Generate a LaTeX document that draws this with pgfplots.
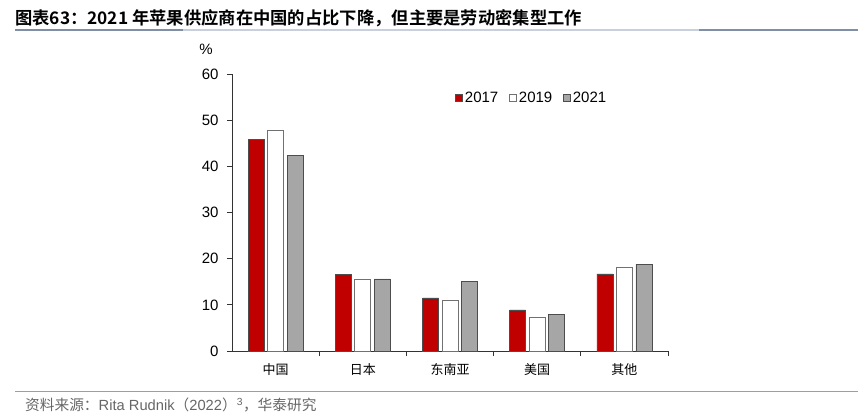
\documentclass[border=0pt]{standalone}
\usepackage{pgfplots}
\pgfplotsset{compat=1.18}
\usepackage{fontspec}
\setmainfont{Liberation Sans}
\newfontfamily\cjk{Noto Sans CJK SC}[BoldFont={Noto Sans CJK SC Bold}]
\definecolor{cred}{HTML}{C00000}
\definecolor{cgray}{HTML}{A6A6A6}
\definecolor{edge}{HTML}{4D4D4D}
\definecolor{lightrule}{HTML}{C8D0DC}
\definecolor{darkrule}{HTML}{7F8FA6}
\definecolor{footrule}{HTML}{8FA0B8}
\begin{document}
\begin{tikzpicture}[x=1bp,y=1bp]
\path[use as bounding box] (0,0) rectangle (865,417);
\node[anchor=west, inner sep=0] at (15,399) {\fontsize{17.3bp}{20bp}\selectfont\cjk\bfseries 图表63：2021 年苹果供应商在中国的占比下降，但主要是劳动密集型工作};
\draw[lightrule, line width=1.2bp] (15,387) -- (858,387);
\draw[darkrule, line width=1.4bp] (15,387) -- (183,387);
\draw[darkrule, line width=1.4bp] (699,387) -- (858,387);
\draw[footrule, line width=1bp] (15,26) -- (858,26);
\node[anchor=west, inner sep=0, text=black!60] at (25,12) {\fontsize{14.7bp}{17bp}\selectfont{\cjk 资料来源：}Rita Rudnik{\cjk （}2022{\cjk ）}\textsuperscript{3}{\cjk ，华泰研究}};
\node[inner sep=0] at (206,368) {\fontsize{15bp}{17bp}\selectfont\%};
\begin{axis}[
  at={(232bp,66bp)}, anchor=south west,
  scale only axis, width=436bp, height=277bp,
  ybar, bar width=16bp, ybar=3.5bp,
  xmin=-0.5, xmax=4.5, ymin=0, ymax=60,
  enlargelimits=false,
  axis x line*=bottom, axis y line*=left,
  axis line style={black!80, line width=0.8bp},
  ytick={0,10,20,30,40,50,60},
  xtick={0,1,2,3,4},
  xticklabels={中国,日本,东南亚,美国,其他},
  xticklabel style={font=\cjk\fontsize{13bp}{15bp}\selectfont, yshift=-4bp},
  yticklabel style={font=\fontsize{15bp}{17bp}\selectfont, xshift=-5bp},
  /pgf/number format/assume math mode=true,
  tick align=outside,
  major tick length=5bp,
  tick style={black!80, line width=0.8bp},
  major x tick style={draw=none},
  extra x ticks={0.5,1.5,2.5,3.5,4.5},
  extra x tick labels={},
  extra x tick style={major x tick style={draw=black!80, line width=0.8bp}, tick align=outside, major tick length=5bp},
  legend columns=3,
  legend style={draw=none, fill=none, at={(0.505,0.913)}, anchor=west,
    font=\fontsize{15bp}{17bp}\selectfont,
    /tikz/every even column/.append style={column sep=9bp}},
  legend image code/.code={\draw[#1, line width=0.6bp] (0bp,-3.5bp) rectangle (7bp,3.5bp);},
]
\addplot[fill=cred, draw=edge, line width=0.7bp] coordinates {(0,45.9) (1,16.6) (2,11.5) (3,8.9) (4,16.7)};
\addplot[fill=white, draw=edge!80, line width=0.7bp] coordinates {(0,47.9) (1,15.5) (2,11.0) (3,7.2) (4,18.2)};
\addplot[fill=cgray, draw=edge, line width=0.7bp] coordinates {(0,42.4) (1,15.6) (2,15.0) (3,7.9) (4,18.8)};
\legend{2017,2019,2021}
\end{axis}
\end{tikzpicture}
\end{document}
